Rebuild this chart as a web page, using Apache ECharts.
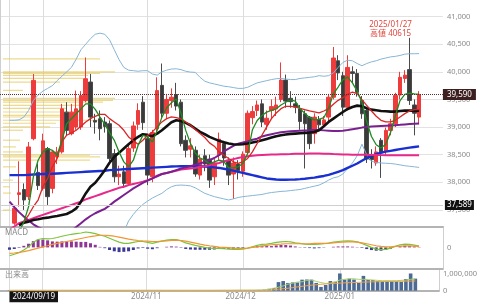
<!DOCTYPE html>
<html><head><meta charset="utf-8">
<script src="https://cdn.jsdelivr.net/npm/echarts@6/dist/echarts.min.js"></script>
<style>html,body{margin:0;padding:0;background:#fff}#c{width:480px;height:307px}</style>
</head><body><div id="c"></div>
<script>
const dates = [
'2024/09/19','2024/09/20','2024/09/24','2024/09/25','2024/09/26','2024/09/27','2024/09/30',
'2024/10/01','2024/10/02','2024/10/03','2024/10/04','2024/10/07','2024/10/08','2024/10/09','2024/10/10','2024/10/11','2024/10/15','2024/10/16','2024/10/17','2024/10/18','2024/10/21','2024/10/22','2024/10/23','2024/10/24','2024/10/25','2024/10/28','2024/10/29','2024/10/30','2024/10/31',
'2024/11/01','2024/11/05','2024/11/06','2024/11/07','2024/11/08','2024/11/11','2024/11/12','2024/11/13','2024/11/14','2024/11/15','2024/11/18','2024/11/19','2024/11/20','2024/11/21','2024/11/22','2024/11/25','2024/11/26','2024/11/27','2024/11/28','2024/11/29',
'2024/12/02','2024/12/03','2024/12/04','2024/12/05','2024/12/06','2024/12/09','2024/12/10','2024/12/11','2024/12/12','2024/12/13','2024/12/16','2024/12/17','2024/12/18','2024/12/19','2024/12/20','2024/12/23','2024/12/24','2024/12/25','2024/12/26','2024/12/27','2024/12/30',
'2025/01/06','2025/01/07','2025/01/08','2025/01/09','2025/01/10','2025/01/14','2025/01/15','2025/01/16','2025/01/17','2025/01/20','2025/01/21','2025/01/22','2025/01/23','2025/01/24','2025/01/27','2025/01/28','2025/01/29'];

// [open, close, low, high]
const ohlc = [
[36900,37155,36800,37180],[37260,37530,37230,37570],[37780,37810,37560,38380],[37870,37680,37500,37980],[37740,38640,37680,38730],
[38790,39845,38760,39960],[38180,37940,37860,38340],[37890,38750,37850,38880],[38610,37740,37590,38640],[37890,38550,37800,38580],
[38460,38550,38330,38640],[38550,39330,38520,39420],[39270,38940,38850,39450],[38880,39270,38850,39420],[39000,39330,38950,39660],
[39000,39570,38950,39650],[39480,39875,39450,40260],[39815,39180,39000,39960],[39120,39090,38880,39240],[39150,38970,38760,39300],
[39090,39010,38900,39180],[39060,38430,38380,39120],[38520,38100,38000,38600],[38100,38150,37950,38300],[38190,37980,37900,38300],
[37980,38610,37950,38700],[38620,39020,38550,39100],[39050,39300,38950,39430],[39450,39080,38950,39560],[38790,38130,37950,38870],
[38100,38900,38000,38950],[38970,39660,38900,39900],[39755,39250,39150,40150],[39250,39500,39150,39600],[39480,39540,39350,39700],
[39590,39380,39300,39800],[39450,38700,38650,39500],[38760,38580,38450,38850],[38600,38660,38450,38800],[38580,38150,38100,38650],
[38130,38420,38050,38500],[38480,38330,38200,38600],[38420,38040,37900,38500],[38100,38350,37950,38420],[38500,38780,38400,38900],
[38700,38440,38300,38750],[38400,38130,37950,38450],[38150,38350,37700,38450],[38330,38210,38050,38400],[38200,38510,38100,38560],
[38540,39250,38500,39300],[39170,39280,39050,39380],[39300,39400,39200,39480],[39420,39090,39000,39500],[39050,39160,38950,39300],
[39300,39370,39150,39500],[39330,39400,39200,39550],[39500,39850,39450,40170],[39850,39470,39350,39950],[39520,39460,39350,39650],
[39420,39360,39250,39550],[39330,39100,38950,39400],[39240,39060,38250,39300],[39180,38700,38600,39200],[38880,39180,38700,39250],
[39140,39040,38950,39200],[39040,39130,39000,39200],[39180,39540,39100,39600],[39540,40250,39500,40450],[40200,39980,39850,40300],
[39930,39360,39200,40000],[39360,40080,39300,40300],[40000,39970,39800,40100],[39970,39630,39550,40050],[39480,39240,39150,39560],
[39300,38420,38350,39350],[38490,38410,38250,38600],[38350,38550,38300,38650],[38760,38550,38080,38800],[38560,38940,38500,38990],
[38940,39060,38850,39150],[39060,39570,39000,39620],[39580,39900,39500,40000],[39880,39940,39800,40030],[40040,39480,39400,40615],
[39400,39250,38850,39500],[39180,39590,39050,39650]];

const maGreen = [null,null,37100,37280,37560,38100,38400,38550,38610,38580,
38490,38760,39060,39150,39240,39330,39420,39420,39320,39180,
39050,38900,38760,38550,38370,38280,38400,38670,38850,38820,
38730,38940,39180,39350,39440,39510,39250,38940,38700,38530,
38440,38400,38340,38370,38400,38380,38260,38260,38280,38340,
38520,38950,39120,39210,39270,39300,39330,39400,39450,39490,
39470,39330,39250,39170,39130,39140,39170,39340,39600,39725,
39860,39905,39800,39650,39450,39100,38830,38680,38620,38690,
38900,39200,39480,39590,39615,39600,39590];
const maRed = [null,null,null,37288,37408,37558,37679,37920,38070,38280,
38431,38732,38852,38894,38942,39015,39093,39153,39195,39231,
39231,39153,39093,39033,38942,38822,38750,38690,38762,38852,
38912,39003,39093,39153,39183,39171,39147,39093,39033,38954,
38882,38810,38714,38654,38551,38491,38431,38371,38341,38371,
38431,38551,38702,38852,39003,39153,39255,39333,39376,39376,
39364,39340,39315,39291,39273,39255,39291,39333,39412,39484,
39532,39592,39634,39604,39496,39394,39291,39195,39123,39093,
39093,39123,39183,39243,39291,39315,39315];
const maBlack = [null,null,37220,37270,37288,37318,37330,37348,37360,37378,
37390,37408,37426,37468,37528,37649,37799,37920,37992,38100,
38220,38353,38461,38533,38612,38690,38762,38822,38870,38858,
38834,38882,38942,39015,39087,39123,39111,39075,39033,38972,
38912,38870,38822,38786,38750,38726,38702,38690,38684,38690,
38702,38720,38738,38762,38786,38810,38834,38852,38864,38876,
38882,38888,38894,38900,38912,38942,39015,39093,39153,39213,
39273,39328,39364,39388,39376,39340,39315,39303,39291,39285,
39279,39279,39291,39297,39297,39297,39297];
const maPurple = [37650,37550,37460,37380,37310,37240,37190,37150,37120,37100,
37090,37090,37100,37130,37190,37260,37330,37390,37440,37480,
37520,37580,37650,37710,37770,37830,37890,37940,37990,38030,
38070,38110,38150,38170,38190,38220,38250,38270,38290,38320,
38340,38370,38400,38440,38490,38560,38610,38660,38700,38720,
38740,38770,38790,38830,38850,38870,38890,38905,38915,38925,
38930,38935,38940,38942,38945,38945,38940,38935,38930,38930,
38935,38945,38960,38975,38990,39000,39010,39015,39020,39025,
39030,39035,39040,39048,39055,39060,39065];
const maPink = [37150,37200,37260,37290,37320,37350,37380,37410,37440,37470,
37500,37530,37560,37590,37620,37650,37690,37720,37750,37780,
37810,37840,37870,37900,37920,37950,37970,37990,38010,38040,
38070,38120,38150,38170,38190,38210,38230,38240,38250,38260,
38280,38290,38310,38330,38350,38380,38400,38420,38440,38460,
38470,38480,38490,38495,38500,38505,38505,38510,38510,38512,
38515,38515,38518,38520,38520,38520,38518,38515,38512,38510,
38505,38505,38500,38500,38500,38498,38495,38495,38492,38490,
38490,38490,38490,38490,38490,38490,38490];
const maBlue = [38130,38130,38130,38130,38135,38140,38145,38150,38150,38155,
38160,38165,38170,38175,38180,38185,38190,38195,38200,38205,
38210,38220,38225,38230,38235,38240,38245,38250,38255,38260,
38265,38270,38275,38280,38285,38288,38290,38290,38290,38290,
38288,38285,38280,38270,38260,38245,38230,38210,38190,38170,
38150,38130,38110,38090,38070,38060,38050,38045,38045,38048,
38052,38058,38065,38075,38085,38100,38115,38135,38160,38190,
38220,38260,38300,38340,38390,38440,38480,38510,38535,38555,
38570,38585,38600,38615,38628,38640,38650];
const bandUpper = [39123,39123,39130,39180,39300,39480,39580,39650,39700,39750,
39840,39920,40000,40080,40230,40400,40500,40600,40680,40700,
40680,40580,40400,40220,40080,40030,40020,40010,40020,40020,
39960,39940,40000,40030,40050,40055,40040,40010,39995,39990,
39900,39830,39800,39780,39760,39740,39730,39715,39700,39700,
39720,39760,39800,39820,39840,39860,39875,39880,39870,39860,
39860,39880,39890,39900,39910,39930,39920,39930,39980,40080,
40170,40210,40200,40150,40110,40150,40180,40200,40230,40250,
40270,40280,40296,40320,40327,40327,40330];
const bandLower = [null,null,null,null,null,null,null,null,null,null,
null,null,null,null,null,null,null,null,null,null,
null,null,null,36950,37100,37300,37420,37520,37600,37660,
37715,37760,37800,37870,37920,37945,37950,37945,37935,37900,
37850,37800,37770,37740,37720,37700,37680,37700,37725,37740,
37750,37760,37770,37780,37800,37815,37825,37835,37840,37850,
37860,37870,37890,37910,37930,37950,37990,38040,38080,38100,
38150,38250,38350,38480,38690,38500,38380,38360,38350,38345,
38340,38330,38315,38300,38290,38280,38270];

const macdLine = [-159,-132,-102,-51,11,100,151,170,163,170,
189,214,233,251,265,276,295,283,265,238,
214,176,138,100,76,76,95,113,113,95,
76,100,119,138,151,151,125,87,62,38,
19,0,-13,-19,-19,-26,-32,-38,-38,-32,
-13,11,38,57,62,76,95,106,113,106,
87,76,62,57,57,62,70,81,100,113,
119,125,119,106,76,38,0,-32,-44,-38,
-13,19,51,62,57,44,25];
const signalLine = [-113,-107,-95,-82,-63,-38,-13,11,31,57,
76,95,113,132,151,170,189,208,220,233,
233,227,214,195,176,157,144,132,125,119,
113,113,119,125,132,138,132,119,100,81,
62,44,31,19,6,0,-6,-13,-19,-19,
-13,0,11,25,38,51,57,62,70,70,
70,70,70,70,76,76,76,81,87,95,
100,106,106,100,87,70,51,31,19,11,
11,19,25,31,31,25,19];
const macdHist = [-45,-30,-10,30,70,120,150,150,135,115,
110,115,115,115,110,105,105,80,50,10,
-15,-50,-75,-90,-85,-75,-50,-20,-12,-25,
-35,-15,0,12,20,15,-8,-30,-40,-45,
-45,-45,-45,-40,-25,-25,-25,-25,-20,-12,
0,12,25,32,25,25,38,45,45,35,
18,6,-8,-13,-19,-14,-6,0,12,18,
19,19,13,6,-11,-32,-51,-63,-63,-50,
-25,0,25,31,25,19,6];

const volume = [20000,20000,20000,20000,20000,20000,20000,20000,20000,20000,
20000,20000,20000,20000,20000,20000,20000,20000,20000,20000,
20000,20000,20000,20000,20000,20000,20000,20000,20000,20000,
20000,20000,20000,20000,20000,20000,20000,20000,20000,20000,
20000,20000,20000,20000,25000,25000,25000,25000,25000,30000,
30000,35000,40000,45000,60000,110000,160000,500000,560000,450000,
480000,480000,640000,650000,640000,450000,220000,330000,560000,520000,
1000000,650000,700000,650000,450000,860000,620000,620000,560000,540000,
570000,560000,540000,520000,680000,1000000,700000];
const volMaShort = [20000,20000,20000,20000,20000,20000,20000,20000,20000,20000,
20000,20000,20000,20000,20000,20000,20000,20000,20000,20000,
20000,20000,20000,20000,20000,20000,20000,20000,20000,20000,
20000,20000,20000,20000,20000,20000,20000,20000,20000,20000,
20000,20000,20000,20000,22000,24000,25000,26000,28000,30000,
30000,32000,35000,40000,45000,80000,140000,200000,280000,380000,
440000,500000,520000,600000,620000,540000,470000,420000,440000,500000,
620000,660000,690000,690000,660000,660000,640000,620000,600000,580000,
580000,580000,580000,600000,620000,660000,680000];
const volMaLong = [20000,20000,20000,20000,20000,20000,20000,20000,20000,20000,
20000,20000,20000,20000,20000,20000,20000,20000,20000,20000,
20000,20000,20000,20000,20000,20000,20000,20000,20000,20000,
20000,20000,20000,20000,20000,20000,20000,20000,20000,20000,
20000,20000,20000,20000,20000,20000,20000,20000,20000,20000,
20000,20000,20000,20000,20000,20000,60000,90000,115000,140000,
180000,220000,255000,290000,320000,345000,370000,390000,410000,425000,
440000,455000,465000,475000,485000,495000,505000,515000,520000,530000,
535000,540000,545000,550000,555000,560000,565000];

// volume-by-price profile (left side)
const profilePrices = [40236,39998,39971,39935,39881,39814,39664,39520,39484,39453,39394,39339,39273,39213,39182,39123,39069,39002,38942,38762,38641,38550,38491,38460,38400,38280,38040,37919,37805,37498];
const profileVolumes = [97,112,97,85,80,57,20,112,110,100,77,63,72,57,60,97,53,47,20,17,13,20,87,97,87,13,10,7,8,7];

const lastClose = 39590;
const refLevel = 37589;
const highDate = '2025/01/27';
const highValue = 40615;
const monthLineDates = ['2024/09/19','2024/10/01','2024/11/01','2024/12/02','2025/01/06'];
const monthLabelDates = ['2024/11/01','2024/12/02','2025/01/06'];

const LEAD = 2, TRAIL = 5;
const cats = [];
for (let i = 0; i < LEAD; i++) cats.push('lead' + i);
dates.forEach(d => cats.push(d));
for (let i = 0; i < TRAIL; i++) cats.push('trail' + i);
const pad = a => [...Array(LEAD).fill('-'), ...a.map(v => v == null ? '-' : v), ...Array(TRAIL).fill('-')];
const padK = a => [...Array(LEAD).fill(['-','-','-','-']), ...a, ...Array(TRAIL).fill(['-','-','-','-'])];
const lineIdx = new Set(monthLineDates.map(d => cats.indexOf(d)));
const labelIdx = new Set(monthLabelDates.map(d => cats.indexOf(d)));

const W = 442.9;
const FONT = '"Noto Sans","Noto Sans CJK JP",sans-serif';
const gridColor = '#e2e2e2';
const T = 'rgba(0,0,0,0)';

function catAxis(gi, showLabel) {
  return {
    type: 'category', gridIndex: gi, data: cats, boundaryGap: false,
    axisLine: { show: true, onZero: false, lineStyle: { color: '#b4b4b4', width: 2 } },
    axisTick: { show: false },
    axisLabel: showLabel ? {
      show: true, interval: (i) => labelIdx.has(i), formatter: v => v.slice(0, 7),
      color: '#8a8a8a', fontSize: 8, fontFamily: FONT, margin: 2
    } : { show: false },
    splitLine: { show: true, interval: (i) => lineIdx.has(i), lineStyle: { color: '#dcdcdc', width: 1 } }
  };
}
const lineS = (data, color, width, extra) => Object.assign({
  type: 'line', xAxisIndex: 0, yAxisIndex: 0, data: pad(data), showSymbol: false, symbol: 'none',
  lineStyle: { color, width }, silent: true, z: 3
}, extra || {});

const chart = echarts.init(document.getElementById('c'), null, { renderer: 'canvas', width: 480, height: 307 });
chart.setOption({
  animation: false,
  textStyle: { fontFamily: FONT },
  grid: [
    { left: 0, top: 0, width: W, height: 226.5 },
    { left: 0, top: 226.5, width: W, height: 41.8 },
    { left: 0, top: 268.3, width: W, height: 22.4 }
  ],
  xAxis: [catAxis(0, false), catAxis(1, false), catAxis(2, true),
    { type: 'value', gridIndex: 0, min: 0, max: W, show: false }],
  yAxis: [
    { type: 'value', gridIndex: 0, position: 'right', min: 37200, max: 41300, interval: 100,
      axisLine: { show: true, lineStyle: { color: '#cfcfcf' } }, axisTick: { show: false },
      splitLine: { show: true, lineStyle: { color: [T, T, T, gridColor, T], width: 1 } },
      axisLabel: { color: '#8a8a8a', fontSize: 7.5, margin: 4, fontFamily: FONT,
        formatter: v => (v % 500 === 0 ? v.toLocaleString('en-US') : '') } },
    { type: 'value', gridIndex: 1, position: 'right', min: -400, max: 400, interval: 400,
      axisLine: { show: true, lineStyle: { color: '#cfcfcf' } }, axisTick: { show: false }, splitLine: { show: false },
      axisLabel: { color: '#8a8a8a', fontSize: 7.5, margin: 4, formatter: v => (v === 0 ? '0' : '') } },
    { type: 'value', gridIndex: 2, position: 'right', min: 0, max: 1300000, interval: 1000000,
      axisLine: { show: true, lineStyle: { color: '#cfcfcf' } }, axisTick: { show: false }, splitLine: { show: false },
      axisLabel: { color: '#8a8a8a', fontSize: 7.5, margin: 4,
        formatter: v => (v === 0 || v === 1000000 ? v.toLocaleString('en-US') : '') } }
  ],
  series: [
    { type: 'custom', xAxisIndex: 3, yAxisIndex: 0, z: 1, silent: true,
      data: profilePrices.map((p, i) => [profileVolumes[i], p]),
      encode: { x: 0, y: 1 },
      renderItem: (params, api) => {
        const a = api.coord([0, api.value(1)]);
        const b = api.coord([api.value(0), api.value(1)]);
        return { type: 'rect', shape: { x: a[0] + 3, y: a[1] - 0.6, width: b[0] - a[0], height: 1.2 },
          style: { fill: 'rgba(226,196,70,0.62)' } };
      } },
    { type: 'candlestick', xAxisIndex: 0, yAxisIndex: 0, data: padK(ohlc), barWidth: 4, z: 2,
      itemStyle: { color: '#ee3b3b', color0: '#3a3a3a', borderColor: '#ee3b3b', borderColor0: '#4a4a4a', borderWidth: 1 },
      markLine: { silent: true, symbol: ['none', 'none'], animation: false,
        data: [
          { yAxis: lastClose, lineStyle: { type: 'dotted', color: '#5a2e2e', width: 1 },
            label: { show: true, position: 'end', distance: 0, formatter: lastClose.toLocaleString('en-US'),
              backgroundColor: '#3d1f1f', color: '#fff', padding: [2, 4, 1, 4], fontSize: 8, fontFamily: FONT } },
          { yAxis: refLevel, lineStyle: { type: 'solid', color: '#cfcfcf', width: 1 },
            label: { show: true, position: 'end', distance: 2, formatter: refLevel.toLocaleString('en-US'),
              backgroundColor: '#111', color: '#fff', padding: [1, 2, 1, 2], fontSize: 8, fontFamily: FONT } }
        ] } },
    lineS(bandUpper, '#86b6d4', 1),
    lineS(bandLower, '#86b6d4', 1),
    lineS(maBlue, '#1a2fd0', 2.4),
    lineS(maPink, '#e8288a', 2),
    lineS(maPurple, '#7a2090', 2),
    lineS(maBlack, '#111111', 2.6),
    lineS(maRed, '#d82626', 1.3),
    lineS(maGreen, '#1d8a22', 1.3),
    { type: 'bar', xAxisIndex: 1, yAxisIndex: 1, data: pad(macdHist), barWidth: 3, silent: true,
      itemStyle: { color: p => (p.value >= 0 ? '#8e3596' : '#3c3a94') } },
    { type: 'line', xAxisIndex: 1, yAxisIndex: 1, data: pad(macdLine), showSymbol: false, symbol: 'none', silent: true,
      lineStyle: { color: '#7cc43c', width: 1.2 } },
    { type: 'line', xAxisIndex: 1, yAxisIndex: 1, data: pad(signalLine), showSymbol: false, symbol: 'none', silent: true,
      lineStyle: { color: '#f39530', width: 1.2 } },
    { type: 'bar', xAxisIndex: 2, yAxisIndex: 2, data: pad(volume), barWidth: 3.6, silent: true,
      itemStyle: { color: '#4c6a94' } },
    { type: 'line', xAxisIndex: 2, yAxisIndex: 2, data: pad(volMaShort), showSymbol: false, symbol: 'none', silent: true,
      lineStyle: { color: '#a6d26c', width: 1 } },
    { type: 'line', xAxisIndex: 2, yAxisIndex: 2, data: pad(volMaLong), showSymbol: false, symbol: 'none', silent: true,
      lineStyle: { color: '#f0a548', width: 1 } }
  ]
});

// labels positioned through the axes
const x0 = chart.convertToPixel({ xAxisIndex: 2 }, dates[0]);
const yVol0 = chart.convertToPixel({ yAxisIndex: 2 }, 0);
const yMacdTop = chart.convertToPixel({ yAxisIndex: 1 }, 400);
const yVolTop = chart.convertToPixel({ yAxisIndex: 2 }, 1300000);
const xHigh = chart.convertToPixel({ xAxisIndex: 0 }, highDate);
const yHigh = chart.convertToPixel({ yAxisIndex: 0 }, highValue);
chart.setOption({
  graphic: [
    { type: 'text', x: x0, y: yVol0 + 0.5, z: 50,
      style: { text: dates[0], fill: '#fff', font: '8px ' + FONT, backgroundColor: '#151515', padding: [2, 3, 1, 3], align: 'left', verticalAlign: 'top' } },
    { type: 'text', x: 5, y: yMacdTop + 2, z: 50,
      style: { text: 'MACD', fill: '#8a8a8a', font: '8px ' + FONT, align: 'left', verticalAlign: 'top' } },
    { type: 'text', x: 5, y: yVolTop + 2, z: 50,
      style: { text: '出来高', fill: '#8a8a8a', font: '8px ' + FONT, align: 'left', verticalAlign: 'top' } },
    { type: 'text', x: xHigh - 19, y: yHigh, z: 50,
      style: { text: highDate + '\n高値 ' + highValue, fill: '#e0463e', font: '8px ' + FONT, lineHeight: 9,
        align: 'center', verticalAlign: 'bottom' } }
  ]
});
</script>
</body></html>
